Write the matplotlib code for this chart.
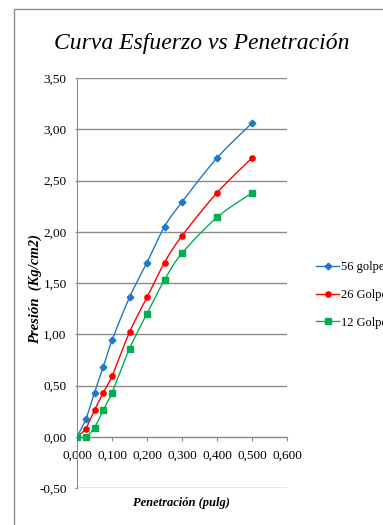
import numpy as np
import matplotlib
matplotlib.use("Agg")
import matplotlib.pyplot as plt
from matplotlib.patches import Rectangle

# Penetración (pulg) y presión (Kg/cm2) por número de golpes
penetracion = [0.0, 0.025, 0.05, 0.075, 0.1, 0.15, 0.2, 0.25, 0.3, 0.4, 0.5]
golpes_56 = [0.00, 0.17, 0.43, 0.68, 0.94, 1.36, 1.70, 2.05, 2.29, 2.72, 3.06]
golpes_26 = [0.00, 0.08, 0.26, 0.43, 0.59, 1.02, 1.36, 1.70, 1.96, 2.38, 2.72]
golpes_12 = [0.00, 0.00, 0.09, 0.26, 0.43, 0.86, 1.20, 1.53, 1.79, 2.14, 2.38]

etiquetas = ["56 golpes", "26 Golpes", "12 Golpes"]
colores = ["#1F78C8", "#FF0000", "#00B050"]
marcadores = ["D", "o", "s"]
xticks = [0.0, 0.1, 0.2, 0.3, 0.4, 0.5, 0.6]
yticks = [-0.5, 0.0, 0.5, 1.0, 1.5, 2.0, 2.5, 3.0, 3.5]

SERIF = "Liberation Serif"
GRIS = "#8C8C8C"
plt.rcParams["font.family"] = [SERIF, "DejaVu Serif"]


def suavizar(x, y, n=20):
    """Curva Catmull-Rom paramétrica que pasa por los puntos (línea suavizada)."""
    p = np.column_stack([x, y]).astype(float)
    p = np.vstack([2 * p[0] - p[1], p, 2 * p[-1] - p[-2]])
    out = []
    t = np.linspace(0, 1, n, endpoint=False)[:, None]
    for i in range(1, len(p) - 2):
        p0, p1, p2, p3 = p[i - 1], p[i], p[i + 1], p[i + 2]
        seg = 0.5 * ((2 * p1) + (-p0 + p2) * t
                     + (2 * p0 - 5 * p1 + 4 * p2 - p3) * t ** 2
                     + (-p0 + 3 * p1 - 3 * p2 + p3) * t ** 3)
        out.append(seg)
    out.append(p[-2][None, :])
    c = np.vstack(out)
    return c[:, 0], c[:, 1]


fig = plt.figure(figsize=(3.83, 5.25), dpi=100)
ax = fig.add_axes([77 / 383, 1 - 488 / 525, 210 / 383, 410 / 525])

# marco exterior del gráfico
fig.patches.append(Rectangle((14 / 383, -0.1), 1.2, 1 - 9 / 525 + 0.1,
                             transform=fig.transFigure, fill=False,
                             edgecolor=GRIS, linewidth=1.0))

handles = []
for serie, col, mk, lab in zip([golpes_56, golpes_26, golpes_12], colores, marcadores, etiquetas):
    ms = 3.4 if mk == "D" else 3.8
    sx, sy = suavizar(penetracion, serie)
    ax.plot(sx, sy, color=col, linewidth=1.0, zorder=3)
    ax.plot(penetracion, serie, linestyle="none", marker=mk, color=col,
            markersize=ms, zorder=4)
    h, = ax.plot([], [], color=col, linewidth=1.0, marker=mk, markersize=ms)
    handles.append(h)

for s in ["top", "right"]:
    ax.spines[s].set_visible(False)
ax.spines["bottom"].set_position(("data", 0))
ax.spines["bottom"].set_color(GRIS)
ax.spines["left"].set_color(GRIS)

ax.set_xlim(0, 0.6)
ax.set_ylim(-0.5, 3.5)
ax.set_xticks(xticks, [f"{v:.3f}".replace(".", ",") for v in xticks])
ax.set_yticks(yticks, [f"{v:.2f}".replace(".", ",") for v in yticks])
ax.tick_params(axis="x", direction="out", length=3, color=GRIS, pad=6.5, labelsize=9.5)
ax.tick_params(axis="y", direction="out", length=1.5, color=GRIS, pad=6, labelsize=9.5)

ax.grid(axis="y", color=GRIS, linewidth=1.0)
ax.set_axisbelow(True)

fig.text(202 / 383, 1 - 43 / 525, "Curva Esfuerzo vs Penetración", ha="center", va="center",
         fontstyle="italic", fontsize=17)
fig.text(35 / 383, 1 - 289 / 525, "Presión  (Kg/cm2)", ha="center", va="center",
         rotation=90, fontstyle="italic", fontweight="bold", fontsize=10.5)
fig.text(181 / 383, 1 - 503 / 525, "Penetración (pulg)", ha="center", va="center",
         fontstyle="italic", fontweight="bold", fontsize=9)

fig.legend(handles, etiquetas, loc="center left",
           bbox_to_anchor=(316 / 383, 1 - 295 / 525), bbox_transform=fig.transFigure,
           frameon=False, prop={"size": 9},
           handlelength=1.85, handletextpad=0.15, labelspacing=1.25,
           borderpad=0, borderaxespad=0)

fig.savefig("out.png", dpi=100)
